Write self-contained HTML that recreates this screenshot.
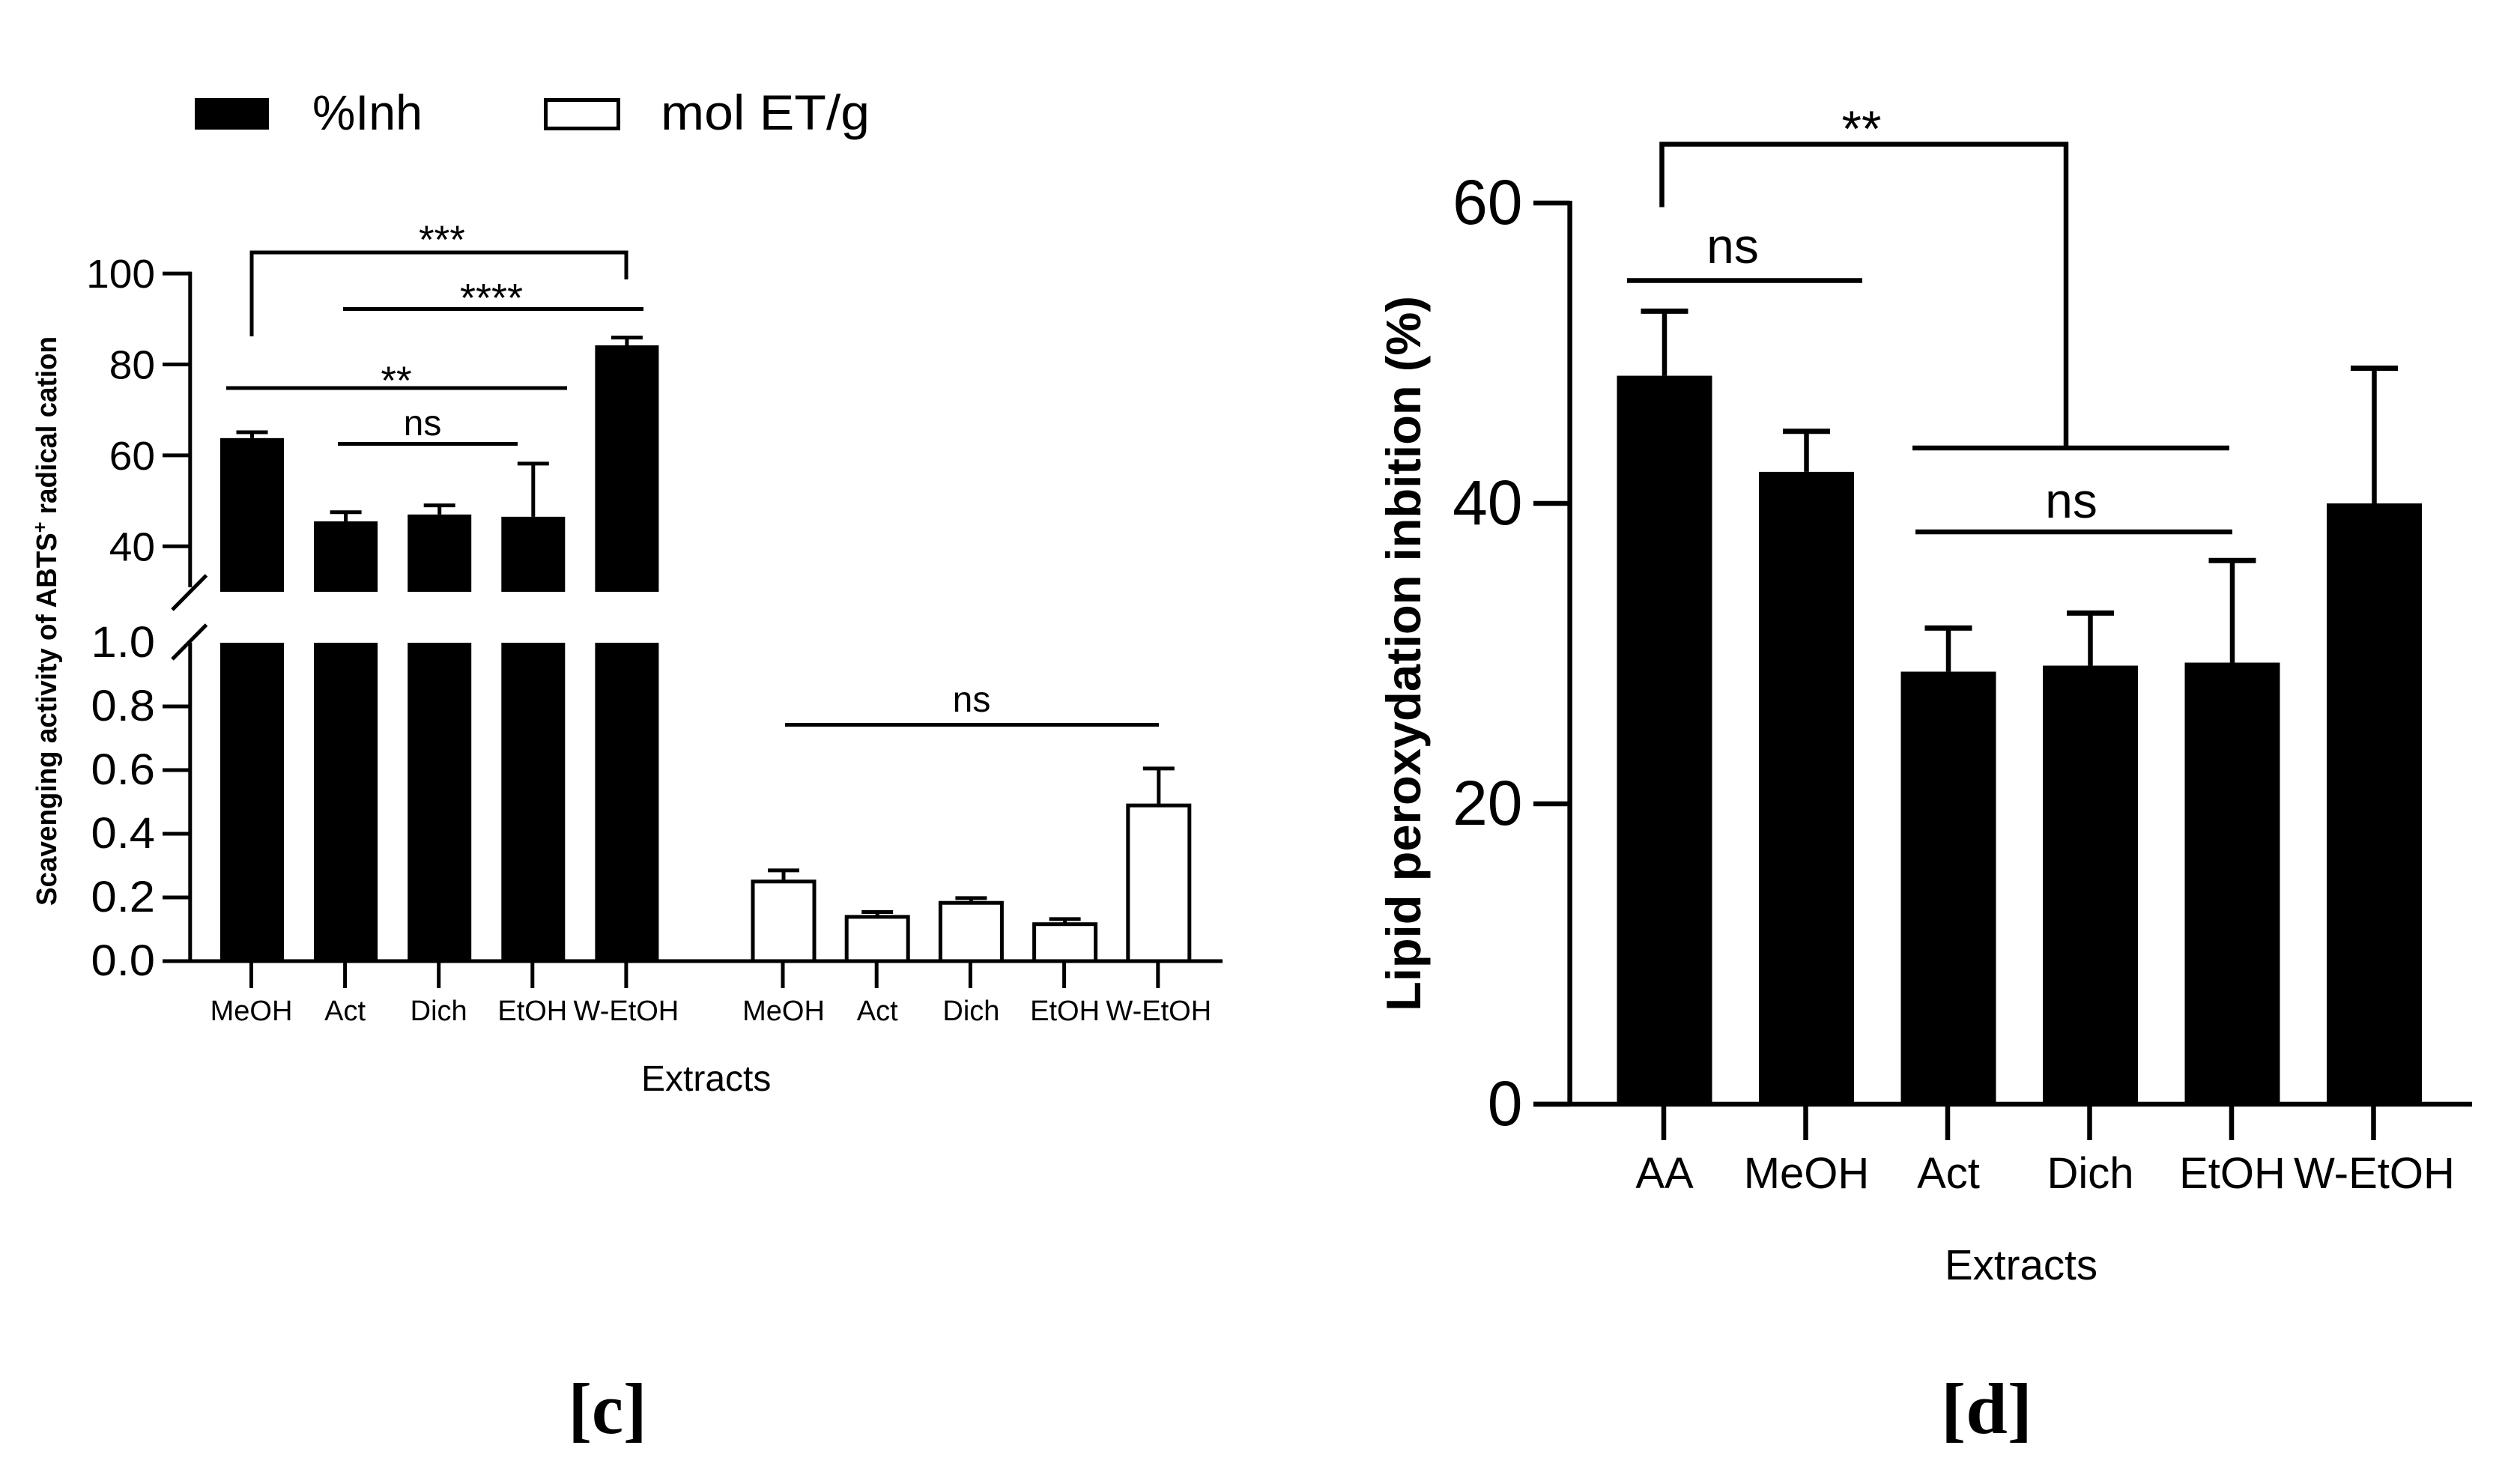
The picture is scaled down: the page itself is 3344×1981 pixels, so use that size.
<!DOCTYPE html>
<html lang="en">
<head>
<meta charset="utf-8">
<title>Scavenging activity and lipid peroxidation inhibition</title>
<style>
html,body{margin:0;padding:0;background:#fff;}
svg{display:block;}
text{font-family:"Liberation Sans",Arial,sans-serif;fill:#000;}
.serif{font-family:"Liberation Serif","Times New Roman",serif;font-weight:bold;}
</style>
</head>
<body>
<svg id="figure" xmlns="http://www.w3.org/2000/svg" width="3344" height="1981" viewBox="0 0 3344 1981">
  <rect x="0" y="0" width="3344" height="1981" fill="#fff"/>

  <g>
    <rect x="260" y="131" width="99" height="42" fill="#000"/>
    <text x="417" y="173" font-size="66" textLength="147" lengthAdjust="spacingAndGlyphs">%Inh</text>
    <rect x="728.500" y="133.500" width="97" height="38" fill="#fff" stroke="#000" stroke-width="5"/>
    <text x="882" y="173" font-size="66" textLength="279" lengthAdjust="spacingAndGlyphs">mol ET/g</text>
  </g>

  <g id="chart-c"></g>
  <g id="chart-d"></g>

  <text transform="translate(75,1209) rotate(-90)" font-size="38" font-weight="bold" textLength="760" lengthAdjust="spacingAndGlyphs">Scavenging activity of ABTS<tspan dy="-13" font-size="26">+</tspan><tspan dy="13"> radical cation</tspan></text>
  <text x="856" y="1456" font-size="48">Extracts</text>

  <g fill="none" stroke="#000" stroke-width="5">
    <line x1="230" y1="814" x2="275.500" y2="768"/>
    <line x1="230" y1="880" x2="275.500" y2="834"/>
  </g>

  <g fill="none" stroke="#000" stroke-width="5">
    <path d="M336 449V337H836V373"/>
    <line x1="458" y1="412.500" x2="859" y2="412.500"/>
    <line x1="302" y1="518" x2="757" y2="518"/>
    <line x1="451" y1="592.500" x2="691" y2="592.500"/>
    <line x1="1048" y1="967.500" x2="1547" y2="967.500"/>
  </g>
  <text x="590" y="338" font-size="53" text-anchor="middle">***</text>
  <text x="656" y="416" font-size="54" text-anchor="middle">****</text>
  <text x="529" y="526" font-size="53" text-anchor="middle">**</text>
  <text x="564" y="581" font-size="48" text-anchor="middle">ns</text>
  <text x="1297" y="950" font-size="48" text-anchor="middle">ns</text>

  <text transform="translate(1896,1350) rotate(-90)" font-size="65" font-weight="bold" textLength="955" lengthAdjust="spacingAndGlyphs">Lipid peroxydation inbition (%)</text>
  <text x="2596" y="1708" font-size="56.500">Extracts</text>

  <g fill="none" stroke="#000" stroke-width="6.500">
    <path d="M2218.500 276.500V192.500H2758V598"/>
    <line x1="2553" y1="598" x2="2976" y2="598"/>
    <line x1="2172" y1="374.500" x2="2486" y2="374.500"/>
    <line x1="2557" y1="710" x2="2980" y2="710"/>
  </g>
  <text x="2485" y="195" font-size="68" text-anchor="middle">**</text>
  <text x="2313" y="351" font-size="66" text-anchor="middle">ns</text>
  <text x="2765" y="691" font-size="66" text-anchor="middle">ns</text>

  <text x="811" y="1913" font-size="96" class="serif" text-anchor="middle" textLength="105" lengthAdjust="spacingAndGlyphs">[c]</text>
  <text x="2652" y="1913" font-size="96" class="serif" text-anchor="middle" textLength="122" lengthAdjust="spacingAndGlyphs">[d]</text>
</svg>

<script>
var cCategories = ["MeOH", "Act", "Dich", "EtOH", "W-EtOH"];
var cInhValues = [63.8, 45.5, 47, 46.5, 84.2];
var cInhErrors = [1.3, 2.0, 2.0, 11.7, 1.7];
var cMolValues = [0.25, 0.139, 0.183, 0.116, 0.489];
var cMolErrors = [0.035, 0.015, 0.015, 0.016, 0.116];
var cUpperTickLabels = ["40", "60", "80", "100"];
var cLowerTickLabels = ["0.0", "0.2", "0.4", "0.6", "0.8"];
var cTopLabel = "1.0";

var dCategories = ["AA", "MeOH", "Act", "Dich", "EtOH", "W-EtOH"];
var dValues = [48.5, 42.1, 28.8, 29.2, 29.4, 40];
var dErrors = [4.3, 2.7, 2.9, 3.5, 6.8, 9];
var dTickLabels = ["0", "20", "40", "60"];

var NS = "http://www.w3.org/2000/svg";

function cUpperY(v) { return 790 - (v - 30) * 6.07; }
function cLowerY(v) { return 1283 - v * 425; }
function cLeftX(i) { return 336.5 + i * 125.1; }
function cRightX(i) { return 1046 + i * 125.2; }
function dY(v) { return 1474 - v * 20.05; }
function dX(i) { return 2222 + i * 189.5; }

function shape(parent, tag, attrs) {
  var el = document.createElementNS(NS, tag);
  for (var k in attrs) { el.setAttribute(k, attrs[k]); }
  parent.appendChild(el);
  return el;
}

function hline(parent, x1, x2, y, w) {
  return shape(parent, "line", { x1: x1, x2: x2, y1: y, y2: y, stroke: "#000", "stroke-width": w });
}

function vline(parent, x, y1, y2, w) {
  return shape(parent, "line", { x1: x, x2: x, y1: y1, y2: y2, stroke: "#000", "stroke-width": w });
}

function label(parent, x, y, size, anchor, str) {
  var t = shape(parent, "text", { x: x, y: y, "font-size": size, "text-anchor": anchor });
  t.textContent = str;
  return t;
}

function stretch(t, factor) {
  t.setAttribute("textLength", t.getComputedTextLength() * factor);
  t.setAttribute("lengthAdjust", "spacingAndGlyphs");
}

var gc = document.getElementById("chart-c");
var gd = document.getElementById("chart-d");
var el, i, y, x;

/* chart c axes */
el = vline(gc, 253.8, cUpperY(100) - 2.5, cUpperY(31), 5);


el = vline(gc, 253.8, cLowerY(1), cLowerY(0), 5);


el = hline(gc, 217, 1632, cLowerY(0), 5);



for (i = 0; i < cUpperTickLabels.length; i++) {
  y = cUpperY(Number(cUpperTickLabels[i]));
  el = hline(gc, 217, 253.8, y, 5);
  
  
  el = label(gc, 207, y + 19, 54, "end", cUpperTickLabels[i]);
  
  
  stretch(el, 1.02);
}
for (i = 0; i < cLowerTickLabels.length; i++) {
  y = cLowerY(Number(cLowerTickLabels[i]));
  el = hline(gc, 217, 253.8, y, 5);
  
  
  el = label(gc, 207, y + 19, 58, "end", cLowerTickLabels[i]);
  
  
  stretch(el, 1.06);
}
el = label(gc, 207, cLowerY(Number(cTopLabel)) + 19, 58, "end", cTopLabel);


stretch(el, 1.06);

/* chart c filled bars (%Inh), drawn across the broken axis */
for (i = 0; i < cCategories.length; i++) {
  x = cLeftX(i);
  el = shape(gc, "rect", { x: x - 42.5, y: cUpperY(cInhValues[i]), width: 85, height: cUpperY(30) - cUpperY(cInhValues[i]), fill: "#000" });
  
  
  el = shape(gc, "rect", { x: x - 42.5, y: cLowerY(1), width: 85, height: cLowerY(0) - cLowerY(1), fill: "#000" });
  
  
  el = vline(gc, x, cUpperY(cInhValues[i] + cInhErrors[i]), cUpperY(cInhValues[i]), 5);
  
  
  el = hline(gc, x - 21, x + 21, cUpperY(cInhValues[i] + cInhErrors[i]), 5);
  
  
  el = vline(gc, x - 1, cLowerY(0) + 2, cLowerY(0) + 36, 5);
  
  
  el = label(gc, x - 1, 1362, 38, "middle", cCategories[i]);
  
  
}

/* chart c outlined bars (mol ET/g) */
for (i = 0; i < cCategories.length; i++) {
  x = cRightX(i);
  el = vline(gc, x, cLowerY(cMolValues[i] + cMolErrors[i]), cLowerY(cMolValues[i]), 5);
  
  
  el = hline(gc, x - 21, x + 21, cLowerY(cMolValues[i] + cMolErrors[i]), 5);
  
  
  el = shape(gc, "rect", { x: x - 41, y: cLowerY(cMolValues[i]), width: 82, height: cLowerY(0) - cLowerY(cMolValues[i]), fill: "#fff", stroke: "#000", "stroke-width": 5 });
  
  
  el = vline(gc, x - 1, cLowerY(0) + 2, cLowerY(0) + 36, 5);
  
  
  el = label(gc, x, 1362, 38, "middle", cCategories[i]);
  
  
}

/* chart d axes */
el = vline(gd, 2095.6, dY(60) - 3, dY(0), 6.5);


el = hline(gd, 2047, 3300, dY(0), 6.5);



for (i = 0; i < dTickLabels.length; i++) {
  y = dY(Number(dTickLabels[i]));
  el = hline(gd, 2047, 2095.6, y, 6.5);
  
  
  el = label(gd, 2032.5, y + 28, 84, "end", dTickLabels[i]);
  
  
}

/* chart d bars */
for (i = 0; i < dCategories.length; i++) {
  x = dX(i);
  el = shape(gd, "rect", { x: x - 63.5, y: dY(dValues[i]), width: 127, height: dY(0) - dY(dValues[i]), fill: "#000" });
  
  
  el = vline(gd, x, dY(dValues[i] + dErrors[i]), dY(dValues[i]), 6.5);
  
  
  el = hline(gd, x - 31.5, x + 31.5, dY(dValues[i] + dErrors[i]), 7);
  
  
  el = vline(gd, x - 1, dY(0) + 3, dY(0) + 48, 6.5);
  
  
  el = label(gd, x, 1586, 58, "middle", dCategories[i]);
  
  
}
</script>
</body>
</html>
